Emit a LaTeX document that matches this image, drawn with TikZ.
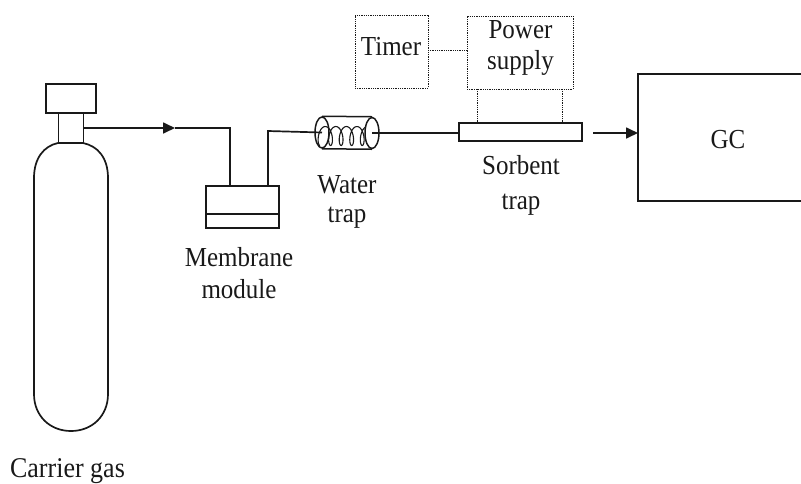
\documentclass[tikz,border=0pt]{standalone}
\usepackage{fontspec}
\setmainfont{Liberation Serif}
\usetikzlibrary{arrows.meta,shapes,calc,positioning}
\definecolor{tinta}{RGB}{25,25,25}
\tikzstyle{edge}   =[line width=1.7pt, tinta]
\tikzstyle{dotedge}=[line width=1pt, tinta, dash pattern=on 1pt off 0.8pt]
\tikzstyle{caja}   =[rectangle, draw=tinta, line width=1.6pt, inner sep=0pt,
                     outer sep=0pt]
\tikzstyle{dotcaja}=[rectangle, draw=tinta, line width=1pt, dash pattern=on 1pt off 0.8pt,
                     inner sep=0pt, outer sep=0pt, minimum width=73pt, minimum height=73pt]
\tikzstyle{texto}  =[align=center, inner sep=0pt, text=tinta, yscale=1.1, transform shape,
                     font=\fontsize{25}{29}\selectfont]
\tikzstyle{flecha} =[-{Triangle[length=12pt,width=11pt]}]

\begin{document}
\begin{tikzpicture}[x=1pt,y=-1pt]

        \useasboundingbox (0,0) rectangle (801,483);

        % cylinder
        \node (cap)[caja,minimum width=50pt,minimum height=29pt] at (71,98.5) {};
        \node (neck)[caja,minimum width=25pt,minimum height=30pt] at (71,128) {};
        \draw [edge] (34,178) .. controls (34,158) and (44,146) .. (58,143)
            -- (83,143) .. controls (98,146) and (108,158) .. (108,178)
            -- (108,394) .. controls (108,416) and (92,431) .. (71,431)
            .. controls (50,431) and (34,416) .. (34,394) -- cycle;

        % boxes
        \node (module)[caja,minimum width=73pt,minimum height=42pt] at (242.5,207) {};
        \draw [edge] ($(module.west)+(0,7)$) to ($(module.east)+(0,7)$);
        \node (sorbent)[caja,minimum width=123pt,minimum height=18pt] at (520.5,132) {};
        \node (gc)[caja,minimum width=170pt,minimum height=127pt] at (723,137.5) {};
        \node (timer)[dotcaja] at (391.5,51.5) {};
        \node (power)[dotcaja,minimum width=106pt] at (520,52.5) {};

        % water trap
        \node (trapL)[ellipse,draw=tinta,line width=1.5pt,inner sep=0pt,
            minimum width=14pt,minimum height=31pt] at (322,132.5) {};
        \node (trapR)[ellipse,draw=tinta,line width=1.5pt,inner sep=0pt,
            minimum width=14pt,minimum height=31pt] at (372,133) {};
        \draw [edge,line width=1.5pt] (trapL.north) to (trapR.north);
        \draw [edge,line width=1.5pt] (trapL.south) to (trapR.south);
        \draw [line width=1.1pt,tinta,smooth,samples=120,domain=0:28]
            plot ({320+1.68*\x-4.2*sin(\x r)},{136+9.5*cos(\x r)});

        % tubes
        \coordinate (start) at (84,128);
        \coordinate (mid) at (175,128);
        \coordinate (inlet) at (230,128);
        \coordinate (outlet) at (268,131);
        \coordinate (out) at (593,133);
        \draw [edge,flecha] (start) to (mid);
        \draw [edge] (mid) -- (inlet) -- (inlet |- module.north);
        \draw [edge] (outlet |- module.north) -- (outlet) -- (trapL.center);
        \draw [edge] (trapR.center) to (sorbent.west |- trapR.center);
        \draw [edge,flecha] (out) to (gc.west |- out);

        % dotted links
        \draw [dotedge] (timer.east |- 0,50) to (power.west |- 0,50);
        \foreach \i in {477,562}
            \draw [dotedge] (\i,0 |- power.south) to (\i,0 |- sorbent.north);

        % labels
        \node (tTimer)[texto,anchor=base] at (391,55) {Timer};
        \node (tPower)[texto] at (520.5,48) {Power\\supply};
        \node (tGC)[texto,anchor=base] at (728,148) {GC};
        \node (tSorbent)[texto] at (521,185) {Sorbent\\[3pt]trap};
        \node (tWater)[texto] at (347,202) {Water\\[-2pt]trap};
        \node (tModule)[texto] at (239,273) {Membrane\\module};
        \node (tCarrier)[texto,anchor=base,font=\fontsize{26}{30}\selectfont] at (67.5,477) {Carrier gas};

\end{tikzpicture}
\end{document}
